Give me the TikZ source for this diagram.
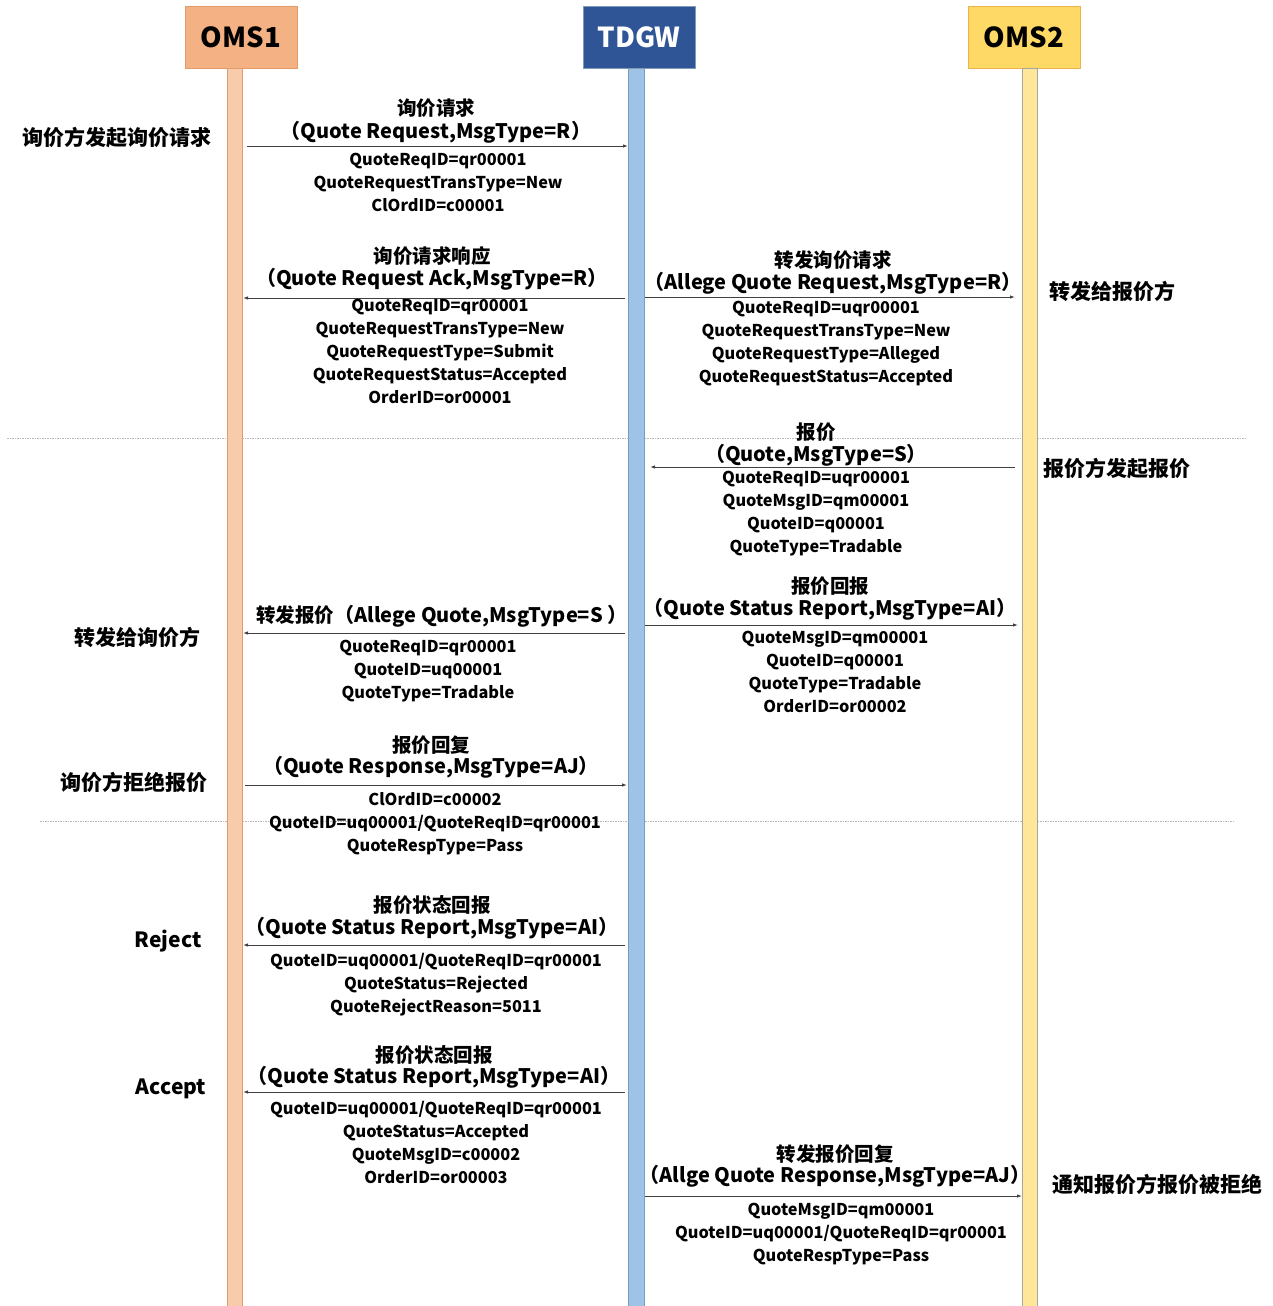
\documentclass[tikz,border=0pt]{standalone}
\usepackage{fontspec}
\setmainfont{Noto Sans CJK SC}
\usetikzlibrary{arrows.meta}
\definecolor{omsahead}{HTML}{F4B183}
\definecolor{omsabar}{HTML}{F8CBAD}
\definecolor{omsaline}{HTML}{E39B6A}
\definecolor{gwhead}{HTML}{2F5597}
\definecolor{gwbar}{HTML}{9DC3E6}
\definecolor{gwline}{HTML}{7F9BB8}
\definecolor{omsbhead}{HTML}{FFD966}
\definecolor{omsbbar}{HTML}{FFE699}
\definecolor{omsbline}{HTML}{ECB24C}
\definecolor{msgline}{HTML}{404040}
\tikzset{
  actor/.style={draw=#1line,fill=#1head,minimum width=112pt,minimum height=62pt,
    inner sep=0,font=\bfseries\fontsize{27.5}{30}\selectfont},
  msg/.style={draw=msgline,line width=0.9pt,-{Latex[length=5pt,width=3.5pt]}},
  hd/.style={font=\bfseries\fontsize{19.5}{22}\selectfont,inner sep=0},
  sub/.style={font=\bfseries\fontsize{20}{24}\selectfont,inner sep=0},
  par/.style={font=\bfseries\fontsize{16.3}{23}\selectfont,align=center,inner sep=0,anchor=north},
  side/.style={font=\bfseries\fontsize{21}{24}\selectfont,inner sep=0},
  sep/.style={draw=gray!55,line width=1pt,dash pattern=on 1.5pt off 1pt}
}
\begin{document}
\begin{tikzpicture}[x=1pt,y=-1pt]
\useasboundingbox (0,0) rectangle (1273,1306);
% separators
\draw[sep] (7,438)--(1245,438);
\draw[sep] (40,821)--(1234,821);
% lifelines
\node[actor=omsa] (oms1) at (241,37) {OMS1};
\node[actor=gw,text=white] (tdgw) at (639,37) {TDGW};
\node[actor=omsb,draw=omsbline] (oms2) at (1024,37) {OMS2};
\draw[draw=omsaline,fill=omsabar] (227,68) rectangle (242,1306);
\draw[draw=gwline,fill=gwbar] (628,68) rectangle (644,1306);
\draw[draw=gray!70,fill=omsbbar] (1022,68) rectangle (1037,1306);

% side notes
\node[side] (n1) at (117,138) {询价方发起询价请求};
\node[side] (n2) at (1112,291) {转发给报价方};
\node[side] (n3) at (1117,469) {报价方发起报价};
\node[side] (n4) at (137,637) {转发给询价方};
\node[side] (n5) at (134,782) {询价方拒绝报价};
\node[side] (n6) at (168,941) {Reject};
\node[side] (n7) at (171,1089) {Accept};
\node[side] (n8) at (1157,1184) {通知报价方报价被拒绝};

% 1 quote request
\coordinate (a1) at (247,146); \coordinate (b1) at (628,146);
\draw[msg] (a1)--(b1);
\node[hd] (h1) at (436,108) {询价请求};
\node[sub] (s1) at (436,132) {（Quote Request,MsgType=R）};
\node[par] (p1) at (438,153) {QuoteReqID=qr00001\\QuoteRequestTransType=New\\ClOrdID=c00001};

% 2 quote request ack
\coordinate (a2) at (625,298); \coordinate (b2) at (243,298);
\draw[msg] (a2)--(b2);
\node[hd] (h2) at (432,256) {询价请求响应};
\node[sub] (s2) at (432,279) {（Quote Request Ack,MsgType=R）};
\node[par] (p2) at (440,299) {QuoteReqID=qr00001\\QuoteRequestTransType=New\\QuoteRequestType=Submit\\QuoteRequestStatus=Accepted\\OrderID=or00001};

% 3 allege quote request
\coordinate (a3) at (645,297); \coordinate (b3) at (1015,297);
\draw[msg] (a3)--(b3);
\node[hd] (h3) at (833,260) {转发询价请求};
\node[sub] (s3) at (833,283) {（Allege Quote Request,MsgType=R）};
\node[par] (p3) at (826,301) {QuoteReqID=uqr00001\\QuoteRequestTransType=New\\QuoteRequestType=Alleged\\QuoteRequestStatus=Accepted};

% 4 quote
\coordinate (a4) at (1015,467); \coordinate (b4) at (650,467);
\draw[msg] (a4)--(b4);
\node[hd] (h4) at (816,432) {报价};
\node[sub] (s4) at (816,455) {（Quote,MsgType=S）};
\node[par] (p4) at (816,471) {QuoteReqID=uqr00001\\QuoteMsgID=qm00001\\QuoteID=q00001\\QuoteType=Tradable};

% 5 quote status report
\coordinate (a5) at (645,625); \coordinate (b5) at (1018,625);
\draw[msg] (a5)--(b5);
\node[hd] (h5) at (830,586) {报价回报};
\node[sub] (s5) at (830,609) {（Quote Status Report,MsgType=AI）};
\node[par] (p5) at (835,631) {QuoteMsgID=qm00001\\QuoteID=q00001\\QuoteType=Tradable\\OrderID=or00002};

% 6 allege quote
\coordinate (a6) at (625,633); \coordinate (b6) at (243,633);
\draw[msg] (a6)--(b6);
\node[sub] (s6) at (442,616) {{\fontsize{19.5}{22}\selectfont 转发报价}（Allege Quote,MsgType=S ）};
\node[par] (p6) at (428,640) {QuoteReqID=qr00001\\QuoteID=uq00001\\QuoteType=Tradable};

% 7 quote response
\coordinate (a7) at (245,785); \coordinate (b7) at (627,785);
\draw[msg] (a7)--(b7);
\node[hd] (h7) at (431,745) {报价回复};
\node[sub] (s7) at (431,767) {（Quote Response,MsgType=AJ）};
\node[par] (p7) at (435,792) {ClOrdID=c00002\\QuoteID=uq00001/QuoteReqID=qr00001\\QuoteRespType=Pass};

% 8 status report reject
\coordinate (a8) at (625,945); \coordinate (b8) at (243,945);
\draw[msg] (a8)--(b8);
\node[hd] (h8) at (432,905) {报价状态回报};
\node[sub] (s8) at (432,928) {（Quote Status Report,MsgType=AI）};
\node[par] (p8) at (436,953) {QuoteID=uq00001/QuoteReqID=qr00001\\QuoteStatus=Rejected\\QuoteRejectReason=5011};

% 9 status report accept
\coordinate (a9) at (625,1092); \coordinate (b9) at (243,1092);
\draw[msg] (a9)--(b9);
\node[hd] (h9) at (434,1055) {报价状态回报};
\node[sub] (s9) at (434,1077) {（Quote Status Report,MsgType=AI）};
\node[par] (p9) at (436,1101) {QuoteID=uq00001/QuoteReqID=qr00001\\QuoteStatus=Accepted\\QuoteMsgID=c00002\\OrderID=or00003};

% 10 allge quote response
\coordinate (a10) at (645,1196); \coordinate (b10) at (1022,1196);
\draw[msg] (a10)--(b10);
\node[hd] (h10) at (835,1154) {转发报价回复};
\node[sub] (s10) at (835,1176) {（Allge Quote Response,MsgType=AJ）};
\node[par] (p10) at (841,1203) {QuoteMsgID=qm00001\\QuoteID=uq00001/QuoteReqID=qr00001\\QuoteRespType=Pass};
\end{tikzpicture}
\end{document}
